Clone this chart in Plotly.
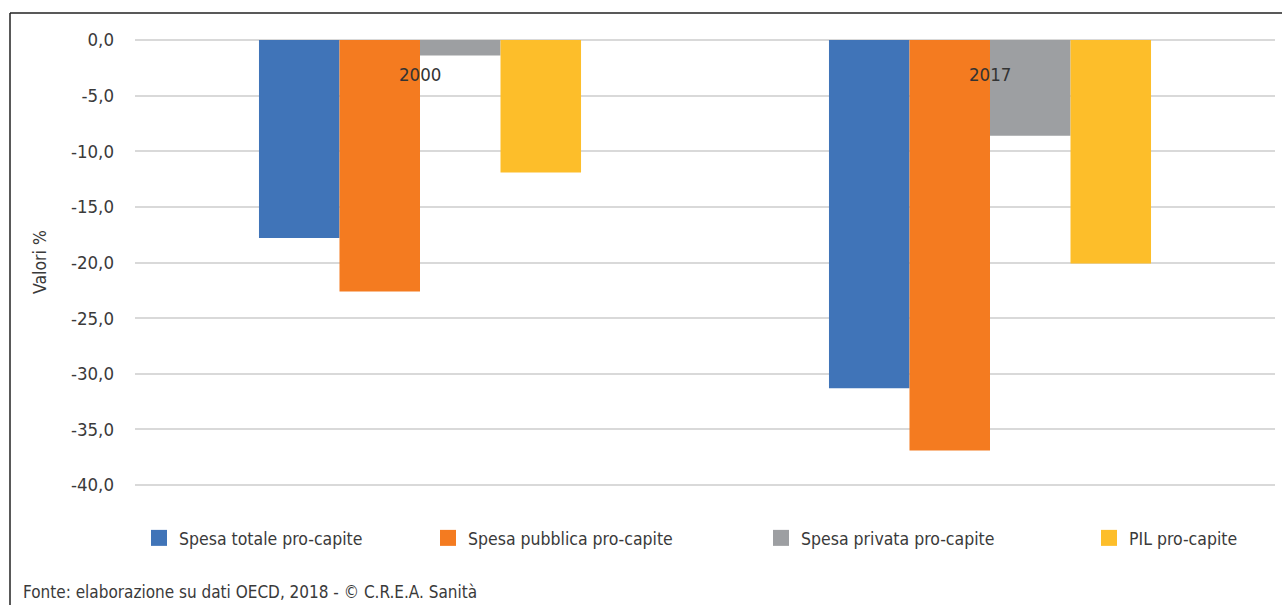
import plotly.graph_objects as go

# --------------------------------------
# Data (variazione %)
# --------------------------------------
anni = ["2000", "2017"]

spesa_totale = [-17.8, -31.3]
spesa_pubblica = [-22.6, -36.9]
spesa_privata = [-1.4, -8.6]
pil = [-11.9, -20.1]

serie_nomi = [
    "Spesa totale pro-capite",
    "Spesa pubblica pro-capite",
    "Spesa privata pro-capite",
    "PIL pro-capite",
]
serie_valori = [spesa_totale, spesa_pubblica, spesa_privata, pil]
serie_colori = ["#4074B8", "#F47B20", "#9D9FA2", "#FDBE2A"]

y_tickvals = [0, -5, -10, -15, -20, -25, -30, -35, -40]
y_ticktext = ["0,0", "-5,0", "-10,0", "-15,0", "-20,0", "-25,0", "-30,0", "-35,0", "-40,0"]

FONT = "DejaVu Sans Condensed, DejaVu Sans, sans-serif"
TXT = "#3a3a3a"

# plot area in pixels (used only to place decorations);
# y range is padded a little so the 0 and -40 grid lines are not clipped
L, R, T, B = 135, 1275, 36, 489
W, H = R - L, B - T
Y_PAD = 0.36


def px_x(x):
    return (x - L) / W


def px_y(y):
    return (B - y) / H


# --------------------------------------
# Figure
# --------------------------------------
fig = go.Figure()

legend_ids = ["legend", "legend2", "legend3", "legend4"]
legend_px = [160, 449, 782, 1110]  # symbol centres

for nome, valori, colore in zip(serie_nomi, serie_valori, serie_colori):
    fig.add_trace(go.Bar(
        x=anni,
        y=valori,
        name=nome,
        marker=dict(color=colore, line=dict(width=0)),
        showlegend=False,
    ))

# legend proxies (bigger square symbol), on a hidden pair of axes
for nome, colore, lid in zip(serie_nomi, serie_colori, legend_ids):
    fig.add_trace(go.Scatter(
        x=[None], y=[None],
        xaxis="x2", yaxis="y2",
        mode="markers",
        name=nome,
        marker=dict(symbol="square", size=16, color=colore),
        legend=lid,
        showlegend=True,
    ))

legend_layout = {}
for lid, cx in zip(legend_ids, legend_px):
    legend_layout[lid] = dict(
        x=px_x(cx - 21), xanchor="left",
        y=px_y(538), yanchor="middle",
        bgcolor="rgba(0,0,0,0)",
        font=dict(family=FONT, size=17.5, color=TXT),
        itemsizing="trace",
    )

# category labels, drawn just under the zero line (index = category position)
annotations = []
for i, anno in enumerate(anni):
    annotations.append(dict(
        x=i, y=0, xref="x", yref="y",
        text=anno, showarrow=False,
        yanchor="top", yshift=-22,
        font=dict(family=FONT, size=18.5, color="#333333"),
    ))

annotations.append(dict(
    x=px_x(40), y=px_y(262), xref="paper", yref="paper",
    text="Valori %", textangle=-90, showarrow=False,
    xanchor="center", yanchor="middle",
    font=dict(family=FONT, size=17.5, color=TXT),
))

annotations.append(dict(
    x=px_x(21), y=px_y(592), xref="paper", yref="paper",
    text="Fonte: elaborazione su dati OECD, 2018 - © C.R.E.A. Sanità",
    showarrow=False, xanchor="left", yanchor="middle",
    font=dict(family=FONT, size=17, color=TXT),
))

# open frame (left + top border)
shapes = [
    dict(type="line", xref="paper", yref="paper",
         x0=px_x(10), x1=px_x(10), y0=px_y(610), y1=px_y(13),
         line=dict(color="#222222", width=1.5)),
    dict(type="line", xref="paper", yref="paper",
         x0=px_x(10), x1=px_x(1290), y0=px_y(13), y1=px_y(13),
         line=dict(color="#222222", width=1.5)),
]

fig.update_layout(
    width=1282,
    height=605,
    margin=dict(l=L, r=1282 - R, t=T, b=605 - B),
    paper_bgcolor="white",
    plot_bgcolor="white",
    barmode="group",
    bargap=0.435,
    bargroupgap=0,
    font=dict(family=FONT, size=18, color=TXT),
    xaxis=dict(
        type="category",
        showticklabels=False,
        showgrid=False,
        zeroline=False,
        showline=False,
        fixedrange=True,
    ),
    yaxis=dict(
        range=[-40 - Y_PAD, Y_PAD],
        tickvals=y_tickvals,
        ticktext=y_ticktext,
        showgrid=True,
        gridcolor="#d9d9d9",
        gridwidth=2,
        zeroline=False,
        showline=False,
        ticks="",
        ticklabelstandoff=20,
        tickfont=dict(family=FONT, size=18.5, color=TXT),
        fixedrange=True,
    ),
    xaxis2=dict(visible=False, overlaying="x", range=[0, 1]),
    yaxis2=dict(visible=False, overlaying="y", range=[0, 1]),
    annotations=annotations,
    shapes=shapes,
    **legend_layout,
)

fig.write_html(
    "out.html",
    config={"displayModeBar": False},
    post_script="document.body.style.margin='0px';",
)
